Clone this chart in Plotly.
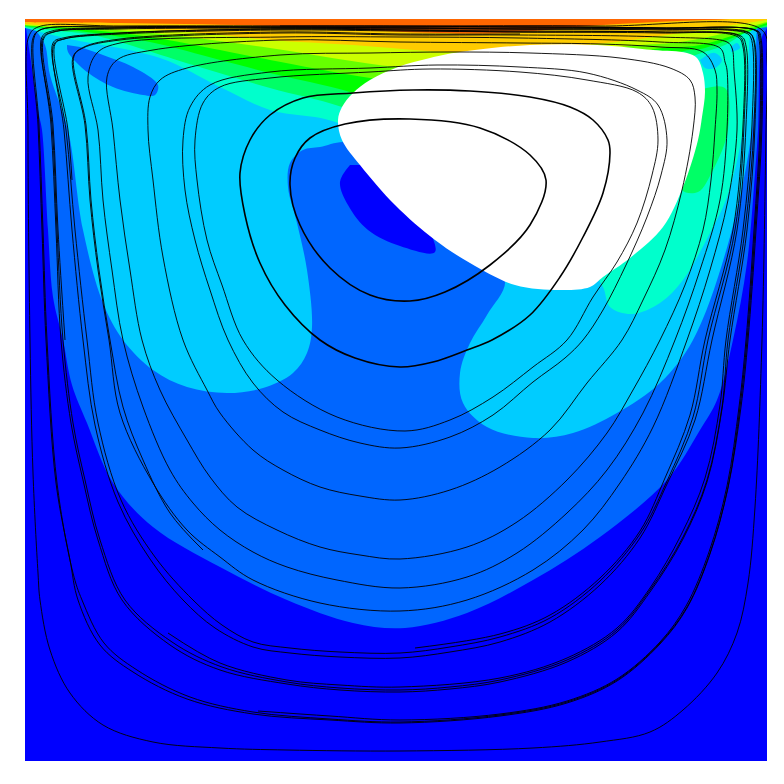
import plotly.graph_objects as go

# ---- filled level regions (axis units) ----
level_1 = [(25,19),(26,28),(29,48),(39,115),(42,130),(48,230),(53,297),(63,340),(72,385),(87,423),(113,483),(153,527),(220,567),(287,600),(353,623),(405,628),(467,613),(533,580),(600,537),(667,480),(700,430),(717,400),(733,340),(747,263),(755,173),(758,130),(762,37),(767,28),(767,19)]
level_2 = [(33,19),(35,28),(45,45),(50,75),(68,130),(83,230),(103,303),(123,340),(153,370),(187,387),(227,393),(263,388),(293,373),(307,353),(312,327),(307,270),(297,223),(288,187),(290,163),(303,150),(320,147),(350,143),(420,205),(470,245),(505,280),(487,315),(470,343),(460,373),(463,403),(487,427),(533,438),(573,433),(617,413),(660,383),(693,340),(730,237),(752,130),(756,60),(757,30),(760,19)]
level_2_patch_a = [(67,45),(68,52),(87,72),(113,87),(143,95),(155,95),(158,85),(133,67),(103,55),(80,47)]
level_0_patch = [(350,165),(340,182),(348,205),(368,230),(400,246),(435,252),(410,200),(365,165)]
level_3 = [(0,22),(25,28),(65,38),(160,58),(220,87),(270,110),(338,123),(470,200),(590,270),(603,287),(610,307),(632,314),(660,303),(683,280),(710,233),(727,197),(743,130),(748,70),(750,35),(753,25),(760,10),(0,10)]
level_2_corner_a = [(700,60),(705,68),(715,68),(722,60),(715,53),(707,55)]
level_2_corner_b = [(731,52),(740,48),(737,43),(731,47)]
level_4 = [(0,22),(25,27),(60,31),(93,35),(193,65),(270,88),(342,107),(450,150),(600,100),(693,56),(725,45),(750,30),(767,27),(800,20),(800,5),(0,5)]
level_4_strip = [(700,90),(725,88),(728,130),(713,170),(698,192),(682,190),(690,140)]
level_5 = [(0,22),(25,26),(70,30),(150,42),(220,60),(270,73),(353,93),(450,130),(600,90),(680,52),(705,48),(745,33),(767,25),(800,18),(800,5),(0,5)]
level_6 = [(0,21),(25,25.5),(80,29),(150,37),(220,50),(270,60),(370,78),(470,90),(600,70),(650,50),(700,45),(740,33),(767,23),(800,17),(800,5),(0,5)]
level_7 = [(0,21),(25,25),(90,28),(180,36),(270,48),(398,67),(500,70),(620,47),(680,42),(730,32),(767,22),(800,16),(800,5),(0,5)]
level_8 = [(0,20),(25,24),(100,27),(200,33),(270,40),(353,45),(460,52),(597,44),(660,36),(720,27),(767,20),(800,15),(800,5),(0,5)]
level_9 = [(0,20),(25,22),(120,23),(270,26),(437,33),(503,33),(603,25),(677,21),(730,19),(770,15),(770,5),(0,5)]
white_core = [(338,120),(342,107),(353,93),(370,80),(398,67),(430,58),(460,52),(530,45),(597,45),(653,50),(687,53),(697,58),(703,73),(705,92),(702,117),(698,140),(683,187),(663,227),(630,258),(603,277),(590,287),(560,290),(515,285),(470,263),(435,240),(395,205),(360,165),(342,140),(338,120)]

# ---- stream lines (axis units) ----
line_01 = [(410,301),(445,292),(490,265),(530,225),(546,180),(530,155),(480,128),(410,119),(345,124),(310,138),(295,158),(290,185),(300,225),(330,268),(370,295),(410,301)]
line_02 = [(400,367),(433,362),(467,350),(492,340),(530,315),(560,277),(583,237),(603,193),(610,153),(608,140),(593,120),(570,107),(530,97),(470,91),(413,90),(353,93),(303,98),(270,115),(250,140),(240,173),(245,215),(260,263),(285,305),(320,340),(355,358),(400,367)]
line_03 = [(405,431),(450,420),(493,397),(533,367),(567,340),(593,297),(617,262),(637,223),(652,175),(658,140),(652,107),(637,92),(587,80),(520,72),(430,69),(370,72),(270,78),(220,87),(203,103),(195,140),(197,180),(207,240),(222,285),(243,340),(277,380),(337,417),(405,431)]
line_04 = [(400,448),(450,437),(493,415),(533,382),(565,358),(583,340),(603,310),(626,265),(647,217),(661,175),(667,140),(658,105),(637,90),(587,73),(520,67),(437,65),(370,68),(270,72),(210,85),(190,107),(183,140),(185,190),(195,240),(210,290),(228,340),(253,383),(283,412),(320,430),(360,443),(400,448)]
line_05 = [(400,500),(450,490),(500,467),(550,430),(587,383),(622,340),(643,300),(665,250),(682,190),(693,130),(695,97),(690,80),(670,68),(620,58),(530,53),(450,52),(370,53),(280,55),(187,68),(160,80),(150,97),(148,130),(153,180),(163,257),(183,340),(207,390),(220,413),(253,450),(283,470),(320,487),(360,496),(400,500)]
line_06 = [(400,559),(467,547),(517,522),(567,480),(607,433),(633,390),(660,340),(685,285),(703,230),(711,180),(715,130),(717,90),(715,70),(703,52),(660,47),(600,44),(520,43),(400,42),(280,40),(153,50),(117,60),(107,77),(113,130),(120,200),(130,270),(142,340),(160,390),(187,440),(210,477),(237,507),(277,530),(320,547),(360,555),(400,559)]
line_07 = [(400,588),(467,577),(517,553),(567,513),(607,470),(643,413),(675,340),(700,270),(720,200),(727,130),(727,70),(725,62),(720,48),(660,42),(520,38),(400,37),(280,37),(120,43),(97,53),(88,77),(98,130),(103,200),(112,270),(123,340),(143,407),(170,470),(193,503),(220,530),(253,552),(287,567),(337,580),(400,588)]
line_08 = [(400,611),(467,600),(533,570),(583,530),(620,483),(653,427),(687,340),(710,270),(728,200),(737,130),(734,70),(732,48),(727,42),(660,37),(520,35),(400,35),(280,33),(120,40),(83,48),(73,57),(85,125),(90,200),(98,270),(109,340),(120,413),(153,483),(187,530),(220,557),(253,580),(320,603),(400,611)]
line_08_end = [(520,34),(400,34),(280,32),(120,39),(84,47),(74,56),(86,125),(91,200),(99,270),(110,340),(123,407),(143,460),(170,513),(203,550)]
line_09a = [(400,658),(450,652),(500,642),(550,622),(600,585),(640,538),(667,484),(695,420),(712,340),(737,230),(746,125),(746,46),(741,36),(660,33),(520,32),(400,31),(280,30),(120,34),(64,39),(54,44),(64,130),(72,230),(83,340),(95,425),(118,502),(150,559),(183,600),(215,628),(253,647),(290,653),(340,657),(400,658)]
line_09b = [(400,653),(450,647),(500,637),(550,618),(600,581),(640,534),(667,481),(693,417),(708,340),(735,230),(744,125),(744,46),(739,36),(660,32),(520,31),(400,30),(280,29),(120,33),(63,38),(53,43),(66,130),(75,230),(87,340),(98,423),(121,500),(155,557),(193,600),(222,625),(253,642),(290,648),(340,652),(400,653)]
line_09c = [(415,648),(500,634),(550,615),(600,578),(640,531),(665,478),(690,415),(705,340),(733,230),(743,125),(743,47),(738,37),(660,32),(520,32),(400,30),(280,29),(120,33),(64,39),(55,44),(68,130),(72,180)]
line_10a = [(400,692),(450,689),(500,682),(567,662),(617,632),(650,592),(683,539),(707,482),(722,409),(730,340),(747,230),(755,125),(754,40),(749,33),(660,30),(520,29),(400,29),(280,28),(120,29),(53,32),(43,38),(51,125),(56,230),(61,340),(71,423),(83,480),(98,540),(122,600),(170,645),(220,670),(287,684),(340,690),(400,692)]
line_10b = [(400,690),(450,687),(500,680),(567,660),(617,630),(650,590),(683,537),(707,480),(722,407),(728,340),(745,230),(754,125),(753,38),(748,32),(660,29),(520,29),(400,28),(280,28),(120,28),(52,31),(42,37),(52,125),(57,230),(63,340),(73,423),(85,480),(100,540),(125,600),(172,642),(222,667),(287,682),(340,688),(400,690)]
line_10c = [(168,633),(220,663),(287,680),(340,685),(400,687),(500,678),(567,658),(617,628),(650,588),(681,535),(705,478),(720,405),(726,340),(743,230),(752,125),(751,38),(746,33),(660,29),(520,29),(400,28),(280,27),(120,28),(54,32),(44,38),(53,125),(58,230),(65,340)]
line_11a = [(400,723),(500,716),(567,703),(617,681),(660,644),(687,608),(710,554),(728,488),(741,407),(748,340),(756,230),(762,125),(761,38),(758,31),(660,28),(520,27),(400,27),(280,27),(120,27),(40,30),(33,38),(38,125),(42,230),(46,340),(56,483),(70,560),(78,600),(100,645),(133,672),(187,699),(253,714),(330,720),(400,723)]
line_11b = [(400,722),(500,715),(567,702),(617,680),(660,643),(687,607),(710,553),(728,487),(740,407),(747,340),(755,230),(761,125),(760,38),(757,31),(660,28),(520,27),(400,27),(280,27),(120,27),(40,30),(34,38),(39,125),(43,230),(47,340),(57,483),(73,573),(82,600),(104,643),(137,670),(190,697),(253,712),(330,719),(400,722)]
line_11c = [(258,711),(330,716),(400,720),(500,714),(567,701),(617,679),(660,642),(686,606),(709,552),(727,486),(739,407),(746,340),(754,230),(760,125),(759,39),(756,31),(660,28),(520,27),(400,26),(280,26)]
line_12 = [(400,751),(533,748),(600,742),(650,732),(683,710),(717,673),(737,633),(748,583),(755,507),(762,340),(766,130),(767,60),(762,30),(600,26),(400,26),(120,26),(38,27),(29,36),(28,130),(30,340),(33,473),(38,573),(40,600),(50,650),(70,693),(103,725),(153,742),(220,748),(287,750),(400,751)]

C0, C1, C2, C3, C4 = "#0000ff", "#0066ff", "#00ccff", "#00ffcc", "#00ff66"
C5, C6, C7, C8, C9 = "#00ff00", "#66ff00", "#ccff00", "#ffcc00", "#ff6600"
regions = [
    (level_1, C1), (level_2, C2), (level_2_patch_a, C1), (level_0_patch, C0),
    (level_3, C3), (level_2_corner_a, C2), (level_2_corner_b, C2),
    (level_4, C4), (level_4_strip, C4), (level_5, C5), (level_6, C6),
    (level_7, C7), (level_8, C8), (level_9, C9), (white_core, "#ffffff"),
]
thick = [line_01, line_02]
thin = [line_03, line_04, line_05, line_06, line_07, line_08, line_08_end, line_09a,
        line_09b, line_09c, line_10a, line_10b, line_10c, line_11a, line_11b, line_11c, line_12]

fig = go.Figure()
for pts, col in regions:
    fig.add_trace(go.Scatter(x=[p[0] for p in pts], y=[p[1] for p in pts], mode="lines",
                             fill="toself", fillcolor=col,
                             line=dict(width=0, shape="spline", smoothing=1.0, color=col),
                             hoverinfo="skip", showlegend=False))
for group, w in ((thick, 1.6), (thin, 0.9)):
    for pts in group:
        fig.add_trace(go.Scatter(x=[p[0] for p in pts], y=[p[1] for p in pts], mode="lines",
                                 line=dict(width=w, shape="spline", smoothing=1.0, color="#000000"),
                                 hoverinfo="skip", showlegend=False))

fig.update_layout(width=784, height=784, margin=dict(l=25, r=17, t=19, b=23, pad=0),
                  paper_bgcolor="#ffffff", plot_bgcolor=C0, showlegend=False)
fig.update_xaxes(range=[25, 767], visible=False, fixedrange=True)
fig.update_yaxes(range=[761, 19], visible=False, fixedrange=True)
fig.write_html("out.html", config={"displayModeBar": False},
               post_script="document.body.style.margin='0';document.body.style.overflow='hidden';")
